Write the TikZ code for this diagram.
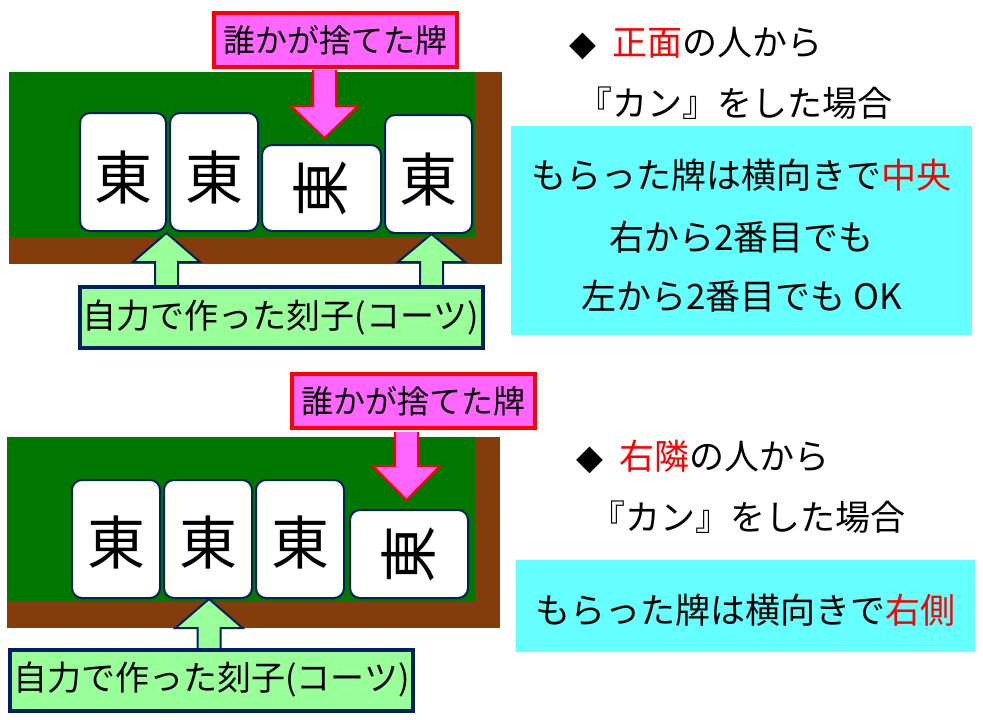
\documentclass[tikz,border=0pt]{standalone}
\usepackage{fontspec}
\newfontfamily\jp{Noto Sans CJK JP}
\newfontfamily\sym{DejaVu Sans}
\usetikzlibrary{positioning}
\definecolor{felt}{RGB}{0,120,0}
\definecolor{wood}{RGB}{132,60,12}
\definecolor{pinkish}{RGB}{255,102,255}
\definecolor{lgreen}{RGB}{153,255,153}
\definecolor{navy}{RGB}{0,32,96}
\definecolor{cyanbox}{RGB}{102,255,255}
\tikzset{
  tile/.style={draw=navy, line width=2pt, fill=white, rounded corners=10pt},
  glyph/.style={font=\jp\fontsize{58}{58}\selectfont},
  tag/.style={draw=red, line width=4pt, fill=pinkish, inner sep=0pt, minimum width=243pt, minimum height=54pt, font=\jp\fontsize{32}{32}\selectfont},
  self/.style={draw=navy, line width=4pt, fill=lgreen, inner sep=0pt, minimum width=403pt, minimum height=61pt, font=\jp\fontsize{34}{34}\selectfont},
  note/.style={font=\jp\fontsize{35}{35}\selectfont},
}
% block arrows: x, tip y, head base y, tail y
\newcommand{\downarr}[4]{\draw[red, line width=2pt, fill=pinkish, line join=miter]
  (#1-11.5,#4) -- (#1-11.5,#3) -- (#1-33.5,#3) -- (#1,#2) -- (#1+33.5,#3) -- (#1+11.5,#3) -- (#1+11.5,#4) ;}
\newcommand{\uparr}[4]{\draw[navy, line width=2pt, fill=lgreen, line join=miter]
  (#1-11.5,#4) -- (#1-11.5,#3) -- (#1-33.5,#3) -- (#1,#2) -- (#1+33.5,#3) -- (#1+11.5,#3) -- (#1+11.5,#4) ;}
\begin{document}
\begin{tikzpicture}[x=1pt,y=-1pt]
\useasboundingbox (0,0) rectangle (983,720);
% upper table
\fill[wood] (9,72) rectangle (502,264);
\fill[felt] (9,72) rectangle (475,237);
\draw[tile] (80,113) rectangle (166,231);
\draw[tile] (170,113) rectangle (258,231);
\draw[tile] (262,145) rectangle (381,231);
\draw[tile] (385,115) rectangle (472,233);
\node[glyph] (e1) at (123,177) {東};
\node[glyph] (e2) at (214,177) {東};
\node[glyph, rotate=90] (e3) at (320,188) {東};
\node[glyph] (e4) at (428,179) {東};
\node[tag] (given1) at (335.5,40) {誰かが捨てた牌};
\downarr{324.5}{138}{106}{70}
\uparr{166.5}{233}{262}{285}
\uparr{431.5}{234}{262}{285}
\node[self] (own1) at (281,317.5) {自力で作った刻子(コーツ)};
\node[note, anchor=west] (head1) at (566,43) {{\sym\bfseries ◆}\ \ {\color{red}正面}の人から};
\node[note] (kan1) at (735,103) {『カン』をした場合};
\fill[cyanbox] (511,126) rectangle (972,335);
\node[note] (r1a) at (741.5,175) {もらった牌は横向きで{\color{red}中央}};
\node[note] (r1b) at (741.5,237) {右から2番目でも};
\node[note] (r1c) at (741.5,296) {左から2番目でも OK};
% lower table
\fill[wood] (7,437) rectangle (500,628);
\fill[felt] (7,437) rectangle (475,602);
\draw[tile] (72,480) rectangle (160,598);
\draw[tile] (164,480) rectangle (252,598);
\draw[tile] (256,480) rectangle (344,598);
\draw[tile] (350,510) rectangle (468,598);
\node[glyph] (f1) at (116,542) {東};
\node[glyph] (f2) at (208,542) {東};
\node[glyph] (f3) at (300,542) {東};
\node[glyph, rotate=90] (f4) at (408,554) {東};
\node[tag] (given2) at (413,401) {誰かが捨てた牌};
\downarr{406.5}{500}{466}{432}
\uparr{209}{599}{628}{648}
\node[self] (own2) at (211.5,680) {自力で作った刻子(コーツ)};
\node[note, anchor=west] (head2) at (573,457) {{\sym\bfseries ◆}\ \ {\color{red}右隣}の人から};
\node[note] (kan2) at (748,517) {『カン』をした場合};
\fill[cyanbox] (516,560) rectangle (975,652);
\node[note] (r2a) at (745.5,610) {もらった牌は横向きで{\color{red}右側}};
\end{tikzpicture}
\end{document}
